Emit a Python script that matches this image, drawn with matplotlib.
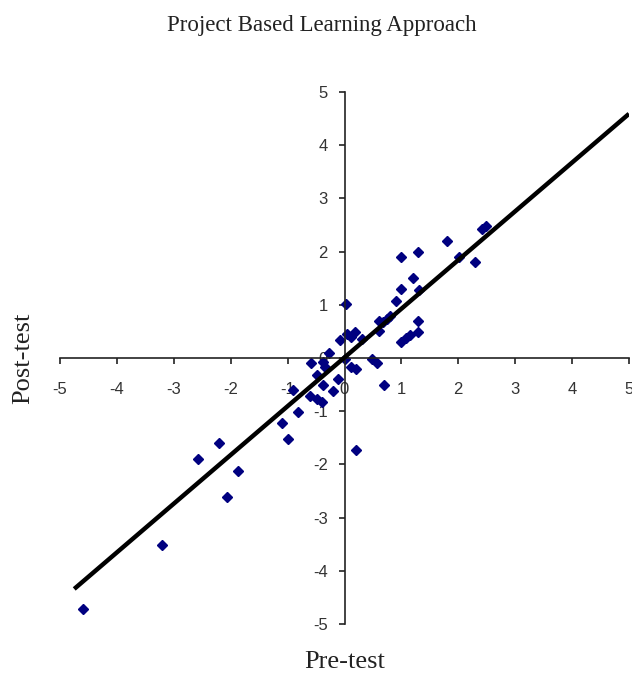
import numpy as np
import matplotlib.pyplot as plt

# pre-test / post-test scores
pre_test = [2.49, 2.41, 1.80, 1.29, 1.00, 2.02, 2.30, 1.20, 1.00, 1.31,
            0.91, 0.02, 0.80, 0.75, 0.68, 0.61, 1.30, 1.30, 1.00, 1.08,
            1.15, 0.60, 0.05, 0.18, 0.12, 0.30, -0.08, -0.28, 0.00, 0.49,
            0.57, -0.59, -0.37, -0.34, 0.11, 0.21, -0.49, -0.12, 0.70, -0.90,
            -0.37, -0.21, -0.60, -0.49, -0.40, -0.81, -1.09, -0.99, -2.20, -2.58,
            -1.88, -2.07, -3.20, -4.60, 0.21]
post_test = [2.48, 2.42, 2.20, 2.00, 1.90, 1.90, 1.80, 1.50, 1.29, 1.28,
             1.08, 1.01, 0.79, 0.73, 0.68, 0.70, 0.70, 0.49, 0.31, 0.38,
             0.43, 0.51, 0.45, 0.49, 0.40, 0.36, 0.33, 0.09, -0.02, -0.01,
             -0.10, -0.10, -0.07, -0.16, -0.17, -0.21, -0.32, -0.40, -0.50, -0.60,
             -0.51, -0.62, -0.71, -0.78, -0.83, -1.01, -1.23, -1.53, -1.59, -1.90,
             -2.12, -2.62, -3.52, -4.72, -1.73]

TREND_SLOPE = 0.916
TREND_INTERCEPT = 0.01
TREND_RANGE = [-4.75, 5.0]

ticks = [-5, -4, -3, -2, -1, 0, 1, 2, 3, 4, 5]

fig = plt.figure(figsize=(6.32, 6.77), dpi=100)
ax = fig.add_axes([60 / 632, 53 / 677, 569 / 632, 532 / 677])

trend_x = np.array(TREND_RANGE)
ax.plot(trend_x, TREND_SLOPE * trend_x + TREND_INTERCEPT, color='black', lw=3.2,
        solid_capstyle='butt', zorder=3)
ax.plot(pre_test, post_test, linestyle='none', marker='D', markersize=5,
        color='#000080', zorder=2)

ax.set_xlim(-5, 5)
ax.set_ylim(-5, 5)
ax.spines['left'].set_position(('data', 0))
ax.spines['bottom'].set_position(('data', 0))
ax.spines['top'].set_visible(False)
ax.spines['right'].set_visible(False)
for side in ['left', 'bottom']:
    ax.spines[side].set_linewidth(1.2)
    ax.spines[side].set_color('#222222')

ax.set_xticks(ticks)
ax.set_yticks(ticks)
ax.set_xticklabels([str(t) for t in ticks])
ax.set_yticklabels([str(t) for t in ticks])
ax.tick_params(axis='x', direction='out', length=4, width=1.2, pad=13,
               labelsize=12, labelcolor='#333333', color='#222222')
ax.tick_params(axis='y', direction='out', length=4, width=1.2, pad=8,
               labelsize=12, labelcolor='#333333', color='#222222')
for lab in ax.get_xticklabels() + ax.get_yticklabels():
    lab.set_family('Liberation Sans')

fig.text(322 / 632, 1 - 26 / 677, 'Project Based Learning Approach',
         ha='center', va='center', fontsize=16.5, family='Liberation Serif',
         color='#222222')
fig.text(345 / 632, 1 - 662 / 677, 'Pre-test', ha='center', va='center',
         fontsize=19, family='Liberation Serif', color='#222222')
fig.text(23 / 632, 1 - 358 / 677, 'Post-test', ha='center', va='center',
         rotation=90, fontsize=19, family='Liberation Serif', color='#222222')

fig.savefig('out.png', dpi=100)
